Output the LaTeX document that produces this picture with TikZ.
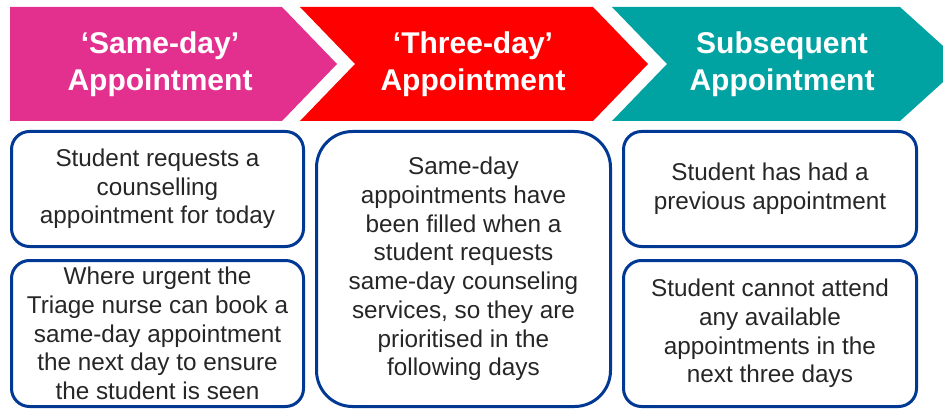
\documentclass[tikz,border=0pt]{standalone}
\usepackage{fontspec}
\setmainfont{Liberation Sans}

\definecolor{sdpink}{RGB}{227,48,143}
\definecolor{tdred}{RGB}{255,0,0}
\definecolor{subteal}{RGB}{0,163,161}
\definecolor{boxblue}{RGB}{0,56,147}

\tikzset{
  headtext/.style={text=white,font=\fontsize{30}{37}\selectfont\bfseries,align=center},
  apptbox/.style={draw=boxblue,line width=3pt,rounded corners=18pt,align=center,
    text=black!85,font=\fontsize{24.3}{28.7}\selectfont,inner sep=0pt},
}

\begin{document}
\begin{tikzpicture}[x=1pt,y=-1pt]
\useasboundingbox (0,0) rectangle (943,409);

%%% CHEVRONS
\path[fill=sdpink] (10,7) -- (282,7) -- (337,64) -- (282,121) -- (10,121) -- cycle;
\path[fill=tdred] (300,7) -- (593,7) -- (648,64) -- (593,121) -- (300,121) -- (355,64) -- cycle;
\path[fill=subteal] (612,7) -- (900,7) -- (963,64) -- (900,121) -- (612,121) -- (667,64) -- cycle;
\node[headtext] (headSame) at (160,64) {‘Same-day’\\Appointment};
\node[headtext] (headThree) at (473,64) {‘Three-day’\\Appointment};
\node[headtext] (headSub) at (782,64) {Subsequent\\Appointment};

%%% SAME-DAY
\node[apptbox,minimum width=292pt,minimum height=115pt] (sameReq) at (157.5,189)
  {Student requests a\\counselling\\appointment for today};
\node[apptbox,minimum width=292pt,minimum height=146pt] (sameUrg) at (157.5,333.5)
  {Where urgent the\\Triage nurse can book a\\same-day appointment\\the next day to ensure\\the student is seen};

%%% THREE-DAY
\node[apptbox,rounded corners=36pt,minimum width=294pt,minimum height=275pt] (threeFill) at (463.5,269)
  {Same-day\\appointments have\\been filled when a\\student requests\\same-day counseling\\services, so they are\\prioritised in the\\following days};

%%% SUBSEQUENT
\node[apptbox,minimum width=293pt,minimum height=115pt] (subPrev) at (770,189)
  {Student has had a\\previous appointment};
\node[apptbox,minimum width=293pt,minimum height=146pt] (subNone) at (770,333.5)
  {Student cannot attend\\any available\\appointments in the\\next three days};
\end{tikzpicture}
\end{document}
